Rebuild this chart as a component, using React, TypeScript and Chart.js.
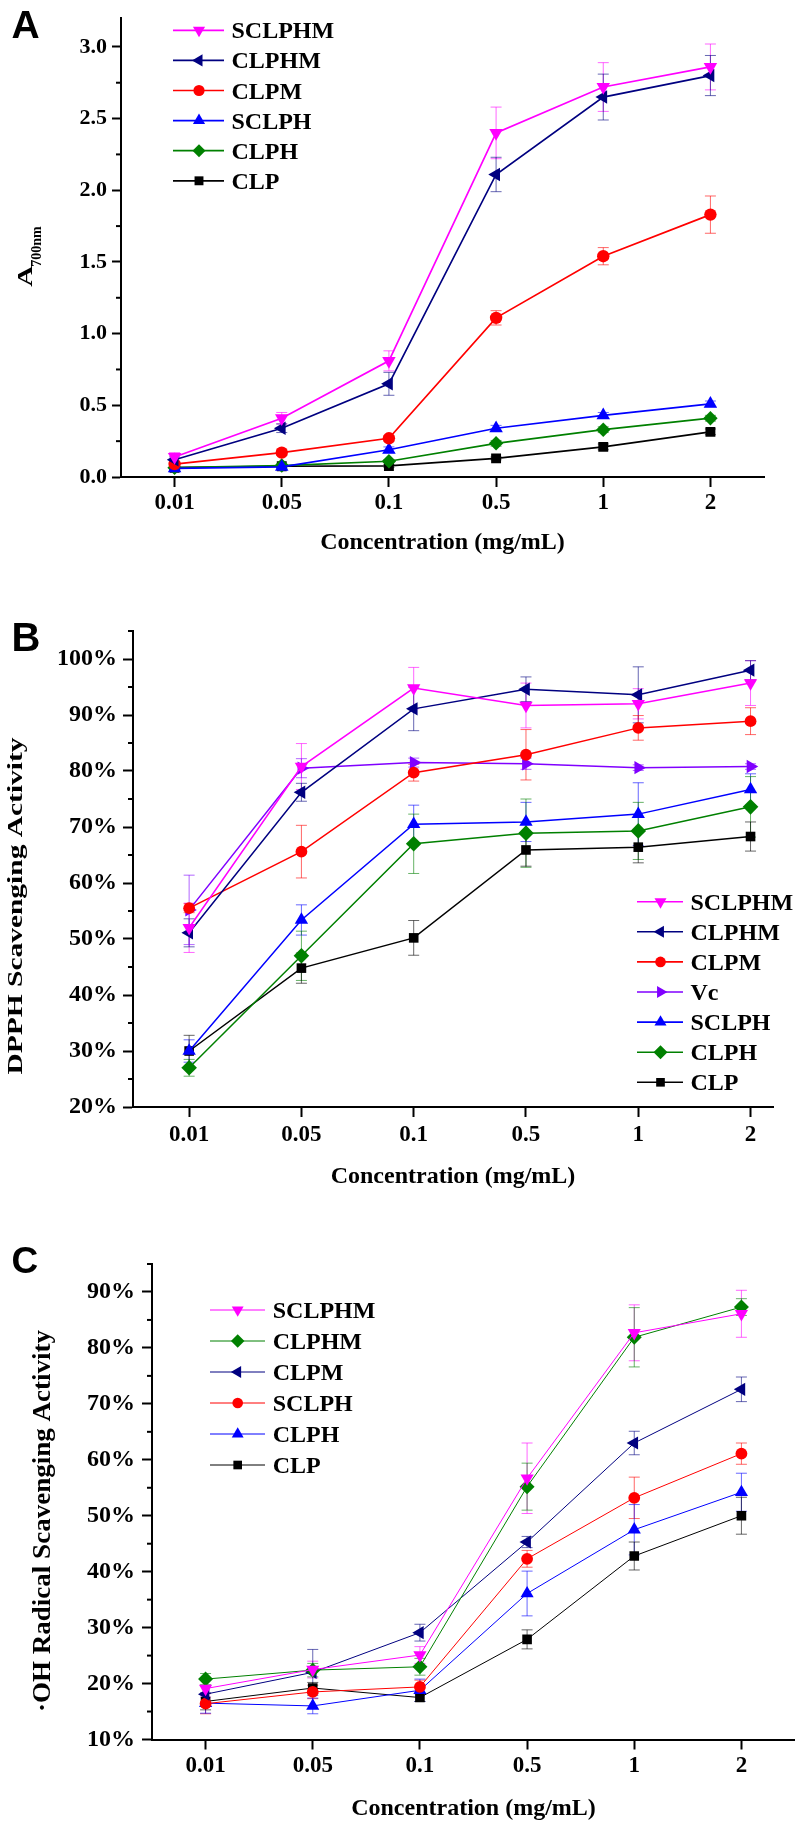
import React, { useEffect, useRef } from 'react';
import { Chart, registerables } from 'chart.js';

Chart.register(...registerables);

// ---------------- shared ----------------
const categories = ['0.01', '0.05', '0.1', '0.5', '1', '2'];
const xTitle = 'Concentration (mg/mL)';

const MAGENTA = '#ff00ff';
const NAVY = '#000080';
const RED = '#ff0000';
const BLUE = '#0000ff';
const GREEN = '#008000';
const BLACK = '#000000';
const VIOLET = '#8000ff';

// ---------------- Panel A (reducing power) ----------------
const aTicks = [0, 0.5, 1, 1.5, 2, 2.5, 3];
const aTickLabels = ['0.0', '0.5', '1.0', '1.5', '2.0', '2.5', '3.0'];
const aMinor = [0.25, 0.75, 1.25, 1.75, 2.25, 2.75];

const aSCLPHM = [0.14, 0.41, 0.81, 2.4, 2.72, 2.86];
const aSCLPHMsd = [0.03, 0.04, 0.07, 0.18, 0.17, 0.16];
const aCLPHM = [0.12, 0.34, 0.65, 2.11, 2.65, 2.8];
const aCLPHMsd = [0.02, 0.03, 0.08, 0.12, 0.16, 0.14];
const aCLPM = [0.09, 0.17, 0.27, 1.11, 1.54, 1.83];
const aCLPMsd = [0.01, 0.02, 0.02, 0.05, 0.06, 0.13];
const aSCLPH = [0.06, 0.07, 0.19, 0.34, 0.43, 0.51];
const aSCLPHsd = [0.01, 0.01, 0.02, 0.02, 0.02, 0.02];
const aCLPH = [0.065, 0.08, 0.11, 0.235, 0.33, 0.41];
const aCLPHsd = [0.01, 0.01, 0.01, 0.02, 0.02, 0.02];
const aCLP = [0.065, 0.075, 0.077, 0.13, 0.21, 0.315];
const aCLPsd = [0.01, 0.01, 0.01, 0.01, 0.02, 0.02];

// ---------------- Panel B (DPPH) ----------------
const bTicks = [20, 30, 40, 50, 60, 70, 80, 90, 100];
const bTickLabels = ['20%', '30%', '40%', '50%', '60%', '70%', '80%', '90%', '100%'];
const bMinor = [25, 35, 45, 55, 65, 75, 85, 95, 105];

const bSCLPHM = [52.0, 80.8, 94.8, 91.7, 92.0, 95.7];
const bSCLPHMsd = [4.4, 4.1, 3.7, 4.0, 2.7, 4.0];
const bCLPHM = [51.1, 76.2, 91.1, 94.6, 93.6, 98.0];
const bCLPHMsd = [2.5, 1.6, 3.9, 2.2, 5.0, 1.7];
const bCLPM = [55.5, 65.6, 79.7, 82.9, 87.7, 88.9];
const bCLPMsd = [0.8, 4.7, 1.5, 4.5, 2.2, 2.4];
const bVc = [55.2, 80.5, 81.5, 81.3, 80.6, 80.8];
const bVcsd = [6.2, 1.7, 0.8, 1.0, 0.5, 0.5];
const bSCLPH = [30.0, 53.4, 70.5, 70.9, 72.3, 76.7];
const bSCLPHsd = [2.0, 2.7, 3.4, 3.5, 5.6, 2.8];
const bCLPH = [27.0, 47.0, 67.0, 68.9, 69.3, 73.6];
const bCLPHsd = [1.5, 4.4, 5.3, 6.1, 5.1, 5.4];
const bCLP = [30.0, 44.8, 50.2, 65.9, 66.4, 68.3];
const bCLPsd = [2.8, 2.7, 3.1, 2.9, 2.8, 2.6];

// ---------------- Panel C (OH radical) ----------------
const cTicks = [10, 20, 30, 40, 50, 60, 70, 80, 90];
const cTickLabels = ['10%', '20%', '30%', '40%', '50%', '60%', '70%', '80%', '90%'];
const cMinor = [15, 25, 35, 45, 55, 65, 75, 85, 95];

const cSCLPHM = [19.1, 22.5, 25.1, 56.7, 82.7, 86.1];
const cSCLPHMsd = [1.5, 1.5, 1.5, 6.3, 5.0, 4.2];
const cCLPHM = [20.8, 22.4, 23.0, 55.2, 81.9, 87.3];
const cCLPHMsd = [1.0, 1.2, 1.5, 4.2, 5.3, 1.5];
const cCLPM = [18.1, 22.0, 29.1, 45.3, 63.0, 72.6];
const cCLPMsd = [1.5, 4.1, 1.5, 1.0, 2.1, 2.2];
const cSCLPH = [16.4, 18.5, 19.4, 42.3, 53.2, 61.1];
const cSCLPHsd = [1.8, 1.2, 1.2, 1.5, 3.7, 1.9];
const cCLPH = [16.5, 16.0, 18.8, 36.1, 47.5, 54.2];
const cCLPHsd = [1.8, 1.4, 2.0, 4.0, 4.5, 3.4];
const cCLP = [16.8, 19.2, 17.5, 27.9, 42.8, 50.0];
const cCLPsd = [1.5, 1.0, 0.7, 1.7, 2.5, 3.3];

// ---------------- helpers ----------------
const SERIF = "'Liberation Serif', 'Times New Roman', serif";
const SANS = "'Liberation Sans', Arial, sans-serif";

type Series = {
  name: string;
  values: number[];
  sd: number[];
  color: string;
  style: string;
  rotation: number;
  radius: number;
};

function rgba(hex: string, a: number) {
  const n = parseInt(hex.slice(1), 16);
  return `rgba(${(n >> 16) & 255},${(n >> 8) & 255},${n & 255},${a})`;
}

function drawMarker(ctx: CanvasRenderingContext2D, style: string, rotation: number, x: number, y: number, r: number, color: string) {
  ctx.save();
  ctx.fillStyle = color;
  ctx.beginPath();
  if (style === 'circle') {
    ctx.arc(x, y, r, 0, Math.PI * 2);
  } else if (style === 'triangle') {
    let rad = (rotation * Math.PI) / 180;
    for (let k = 0; k < 3; k++) {
      const px = x + Math.sin(rad) * r;
      const py = y - Math.cos(rad) * r;
      if (k === 0) ctx.moveTo(px, py);
      else ctx.lineTo(px, py);
      rad += (2 * Math.PI) / 3;
    }
    ctx.closePath();
  } else if (style === 'rect') {
    const s = r * Math.SQRT1_2;
    ctx.rect(x - s, y - s, 2 * s, 2 * s);
  } else if (style === 'rectRot') {
    ctx.moveTo(x - r, y);
    ctx.lineTo(x, y - r);
    ctx.lineTo(x + r, y);
    ctx.lineTo(x, y + r);
    ctx.closePath();
  }
  ctx.fill();
  ctx.restore();
}

function drawVTitle(ctx: CanvasRenderingContext2D, text: string, font: string, baselineX: number, centerY: number, targetLen: number) {
  ctx.save();
  ctx.font = font;
  const w = ctx.measureText(text).width;
  const k = targetLen / w;
  ctx.translate(baselineX, centerY);
  ctx.rotate(-Math.PI / 2);
  ctx.scale(k, 1);
  ctx.textAlign = 'center';
  ctx.textBaseline = 'alphabetic';
  ctx.fillStyle = '#000';
  ctx.fillText(text, 0, 0);
  ctx.restore();
}

type PanelCfg = {
  key: string;
  letter: string;
  letterFont: number;
  letterX: number;
  letterBase: number;
  top: number;
  height: number;
  left: number;
  padRight: number;
  padTop: number;
  padBottom: number;
  yMin: number;
  yMax: number;
  xMax: number;
  yTicks: number[];
  yTickLabels: string[];
  yMinor: number[];
  yTickFont: number;
  yTickLen: number;
  yTickPad: number;
  xTickPad: number;
  lineWidth: number;
  series: Series[];
  legend: { x1: number; x2: number; mx: number; tx: number; y0: number; step: number; lw: number };
  xTitleBase: number;
  drawYTitle: (ctx: CanvasRenderingContext2D) => void;
};

const panelA: PanelCfg = {
  key: 'A',
  letter: 'A',
  letterFont: 39,
  letterX: 11.5,
  letterBase: 38.3,
  top: 0,
  height: 600,
  left: 121,
  padRight: 31,
  padTop: 1,
  padBottom: 63,
  yMin: 0,
  yMax: 3.2,
  xMax: 6.5,
  yTicks: aTicks,
  yTickLabels: aTickLabels,
  yMinor: aMinor,
  yTickFont: 22,
  yTickLen: 9,
  yTickPad: 5,
  xTickPad: 2,
  lineWidth: 1.7,
  series: [
    { name: 'SCLPHM', values: aSCLPHM, sd: aSCLPHMsd, color: MAGENTA, style: 'triangle', rotation: 180, radius: 7.8 },
    { name: 'CLPHM', values: aCLPHM, sd: aCLPHMsd, color: NAVY, style: 'triangle', rotation: -90, radius: 7.8 },
    { name: 'CLPM', values: aCLPM, sd: aCLPMsd, color: RED, style: 'circle', rotation: 0, radius: 6.2 },
    { name: 'SCLPH', values: aSCLPH, sd: aSCLPHsd, color: BLUE, style: 'triangle', rotation: 0, radius: 7.8 },
    { name: 'CLPH', values: aCLPH, sd: aCLPHsd, color: GREEN, style: 'rectRot', rotation: 0, radius: 7.2 },
    { name: 'CLP', values: aCLP, sd: aCLPsd, color: BLACK, style: 'rect', rotation: 0, radius: 7 },
  ],
  legend: { x1: 173, x2: 224, mx: 199, tx: 231.5, y0: 30.3, step: 30.1, lw: 1.7 },
  xTitleBase: 549,
  drawYTitle: (ctx) => {
    ctx.save();
    ctx.translate(31.7, 286.7);
    ctx.rotate(-Math.PI / 2);
    ctx.fillStyle = '#000';
    ctx.textBaseline = 'alphabetic';
    ctx.textAlign = 'left';
    ctx.save();
    ctx.font = `bold 22px ${SERIF}`;
    const wA = ctx.measureText('A').width;
    ctx.scale(21 / wA, 1);
    ctx.fillText('A', 0, 0);
    ctx.restore();
    ctx.font = `bold 14px ${SERIF}`;
    ctx.fillText('700nm', 20, 9.5);
    ctx.restore();
  },
};

const panelB: PanelCfg = {
  key: 'B',
  letter: 'B',
  letterFont: 40,
  letterX: 11.5,
  letterBase: 50.7,
  top: 600,
  height: 620,
  left: 133,
  padRight: 22,
  padTop: 31,
  padBottom: 53,
  yMin: 20,
  yMax: 105,
  xMax: 6.2,
  yTicks: bTicks,
  yTickLabels: bTickLabels,
  yMinor: bMinor,
  yTickFont: 24,
  yTickLen: 10,
  yTickPad: 6,
  xTickPad: 4,
  lineWidth: 1.5,
  series: [
    { name: 'SCLPHM', values: bSCLPHM, sd: bSCLPHMsd, color: MAGENTA, style: 'triangle', rotation: 180, radius: 7.7 },
    { name: 'CLPHM', values: bCLPHM, sd: bCLPHMsd, color: NAVY, style: 'triangle', rotation: -90, radius: 7.7 },
    { name: 'CLPM', values: bCLPM, sd: bCLPMsd, color: RED, style: 'circle', rotation: 0, radius: 5.9 },
    { name: 'Vc', values: bVc, sd: bVcsd, color: VIOLET, style: 'triangle', rotation: 90, radius: 7.7 },
    { name: 'SCLPH', values: bSCLPH, sd: bSCLPHsd, color: BLUE, style: 'triangle', rotation: 0, radius: 7.7 },
    { name: 'CLPH', values: bCLPH, sd: bCLPHsd, color: GREEN, style: 'rectRot', rotation: 0, radius: 7.8 },
    { name: 'CLP', values: bCLP, sd: bCLPsd, color: BLACK, style: 'rect', rotation: 0, radius: 6.8 },
  ],
  legend: { x1: 637, x2: 683, mx: 660.5, tx: 690.5, y0: 301.7, step: 30.1, lw: 1.6 },
  xTitleBase: 583,
  drawYTitle: (ctx) => {
    drawVTitle(ctx, 'DPPH Scavenging Activity', `bold 22px ${SERIF}`, 22, 306, 337);
  },
};

const panelC: PanelCfg = {
  key: 'C',
  letter: 'C',
  letterFont: 37,
  letterX: 11.5,
  letterBase: 53,
  top: 1220,
  height: 604,
  left: 152,
  padRight: 0,
  padTop: 44,
  padBottom: 24.5,
  yMin: 10,
  yMax: 95,
  xMax: 6.5,
  yTicks: cTicks,
  yTickLabels: cTickLabels,
  yMinor: cMinor,
  yTickFont: 24,
  yTickLen: 10,
  yTickPad: 7,
  xTickPad: 3,
  lineWidth: 1,
  series: [
    { name: 'SCLPHM', values: cSCLPHM, sd: cSCLPHMsd, color: MAGENTA, style: 'triangle', rotation: 180, radius: 7.6 },
    { name: 'CLPHM', values: cCLPHM, sd: cCLPHMsd, color: GREEN, style: 'rectRot', rotation: 0, radius: 7.5 },
    { name: 'CLPM', values: cCLPM, sd: cCLPMsd, color: NAVY, style: 'triangle', rotation: -90, radius: 7.6 },
    { name: 'SCLPH', values: cSCLPH, sd: cSCLPHsd, color: RED, style: 'circle', rotation: 0, radius: 5.9 },
    { name: 'CLPH', values: cCLPH, sd: cCLPHsd, color: BLUE, style: 'triangle', rotation: 0, radius: 7.6 },
    { name: 'CLP', values: cCLP, sd: cCLPsd, color: BLACK, style: 'rect', rotation: 0, radius: 6.8 },
  ],
  legend: { x1: 210, x2: 265, mx: 237.7, tx: 272.7, y0: 90, step: 31, lw: 1 },
  xTitleBase: 595,
  drawYTitle: (ctx) => {
    drawVTitle(ctx, '·OH Radical Scavenging Activity', `bold 25px ${SERIF}`, 50, 301, 382);
  },
};

function buildChart(canvas: HTMLCanvasElement, cfg: PanelCfg) {
  const datasets = cfg.series.map((s) => ({
    label: s.name,
    data: s.values.map((v, i) => ({ x: i + 1, y: v })),
    borderColor: s.color,
    backgroundColor: s.color,
    borderWidth: cfg.lineWidth,
    pointStyle: s.style,
    pointRotation: s.rotation,
    pointRadius: s.radius,
    pointHoverRadius: s.radius,
    pointBackgroundColor: s.color,
    pointBorderColor: s.color,
    pointBorderWidth: 0,
    tension: 0,
    fill: false,
  }));

  const extras = {
    id: 'extras' + cfg.key,
    beforeDatasetsDraw(chart: any) {
      const ctx: CanvasRenderingContext2D = chart.ctx;
      const ys = chart.scales.y;
      cfg.series.forEach((s, di) => {
        const meta = chart.getDatasetMeta(di);
        ctx.save();
        ctx.strokeStyle = rgba(s.color, 0.6);
        ctx.lineWidth = 1;
        s.values.forEach((v, i) => {
          const pt = meta.data[i];
          if (!pt) return;
          const x = pt.x;
          const yt = ys.getPixelForValue(v + s.sd[i]);
          const yb = ys.getPixelForValue(v - s.sd[i]);
          ctx.beginPath();
          ctx.moveTo(x, yt);
          ctx.lineTo(x, yb);
          ctx.moveTo(x - 5.5, yt);
          ctx.lineTo(x + 5.5, yt);
          ctx.moveTo(x - 5.5, yb);
          ctx.lineTo(x + 5.5, yb);
          ctx.stroke();
        });
        ctx.restore();
      });
    },
    afterDraw(chart: any) {
      const ctx: CanvasRenderingContext2D = chart.ctx;
      const ys = chart.scales.y;
      const area = chart.chartArea;
      // minor ticks
      ctx.save();
      ctx.strokeStyle = '#000';
      ctx.lineWidth = 2;
      cfg.yMinor.forEach((v) => {
        const y = ys.getPixelForValue(v);
        ctx.beginPath();
        ctx.moveTo(area.left - 5, y);
        ctx.lineTo(area.left, y);
        ctx.stroke();
      });
      ctx.restore();
      // panel letter
      ctx.save();
      ctx.fillStyle = '#000';
      ctx.font = `bold ${cfg.letterFont}px ${SANS}`;
      ctx.textAlign = 'left';
      ctx.textBaseline = 'alphabetic';
      ctx.fillText(cfg.letter, cfg.letterX, cfg.letterBase);
      // x title
      ctx.font = `bold 24px ${SERIF}`;
      ctx.textAlign = 'center';
      ctx.fillText(xTitle, (area.left + area.right) / 2, cfg.xTitleBase);
      ctx.restore();
      // y title
      cfg.drawYTitle(ctx);
      // legend
      const L = cfg.legend;
      cfg.series.forEach((s, i) => {
        const y = L.y0 + i * L.step;
        ctx.save();
        ctx.strokeStyle = s.color;
        ctx.lineWidth = L.lw;
        ctx.beginPath();
        ctx.moveTo(L.x1, y);
        ctx.lineTo(L.x2, y);
        ctx.stroke();
        ctx.restore();
        drawMarker(ctx, s.style, s.rotation, L.mx, y, s.radius * 0.9, s.color);
        ctx.save();
        ctx.fillStyle = '#000';
        ctx.font = `bold 24px ${SERIF}`;
        ctx.textAlign = 'left';
        ctx.textBaseline = 'alphabetic';
        ctx.fillText(s.name, L.tx, y + 8);
        ctx.restore();
      });
    },
  };

  return new Chart(canvas, {
    type: 'line',
    data: { datasets: datasets as any },
    options: {
      animation: false,
      responsive: false,
      devicePixelRatio: 1,
      events: [],
      layout: {
        autoPadding: false,
        padding: { left: 0, right: cfg.padRight, top: cfg.padTop, bottom: cfg.padBottom },
      },
      plugins: { legend: { display: false }, tooltip: { enabled: false }, title: { display: false } },
      scales: {
        x: {
          type: 'linear',
          min: 0.5,
          max: cfg.xMax,
          afterFit: (s: any) => {
            s.height = 60;
          },
          afterBuildTicks: (s: any) => {
            s.ticks = categories.map((_, i) => ({ value: i + 1 }));
          },
          ticks: {
            callback: (v: any) => categories[Math.round(Number(v)) - 1] ?? '',
            font: { family: SERIF, size: 23, weight: 'bold' },
            color: '#000',
            padding: cfg.xTickPad,
            maxRotation: 0,
            autoSkip: false,
          },
          grid: {
            display: true,
            drawOnChartArea: false,
            drawTicks: true,
            tickLength: 10,
            tickWidth: 2,
            tickColor: '#000',
            color: '#000',
          },
          border: { display: true, color: '#000', width: 2 },
        },
        y: {
          type: 'linear',
          min: cfg.yMin,
          max: cfg.yMax,
          afterFit: (s: any) => {
            s.width = cfg.left;
          },
          afterBuildTicks: (s: any) => {
            s.ticks = cfg.yTicks.map((v) => ({ value: v }));
          },
          ticks: {
            callback: (v: any) => {
              const idx = cfg.yTicks.findIndex((t) => Math.abs(t - Number(v)) < 1e-9);
              return idx >= 0 ? cfg.yTickLabels[idx] : '';
            },
            font: { family: SERIF, size: cfg.yTickFont, weight: 'bold' },
            color: '#000',
            padding: cfg.yTickPad,
            autoSkip: false,
          },
          grid: {
            display: true,
            drawOnChartArea: false,
            drawTicks: true,
            tickLength: cfg.yTickLen,
            tickWidth: 2,
            tickColor: '#000',
            color: '#000',
          },
          border: { display: true, color: '#000', width: 2 },
        },
      },
    } as any,
    plugins: [extras as any],
  });
}

function Panel({ cfg }: { cfg: PanelCfg }) {
  const ref = useRef<HTMLCanvasElement | null>(null);
  useEffect(() => {
    if (!ref.current) return;
    const chart = buildChart(ref.current, cfg);
    return () => chart.destroy();
  }, [cfg]);
  return (
    <canvas
      ref={ref}
      width={795}
      height={cfg.height}
      style={{ position: 'absolute', left: 0, top: cfg.top, width: 795, height: cfg.height, display: 'block' }}
    />
  );
}

export default function App() {
  return (
    <div style={{ position: 'absolute', left: 0, top: 0, width: 795, height: 1824, background: '#fff', overflow: 'hidden' }}>
      <Panel cfg={panelA} />
      <Panel cfg={panelB} />
      <Panel cfg={panelC} />
    </div>
  );
}
